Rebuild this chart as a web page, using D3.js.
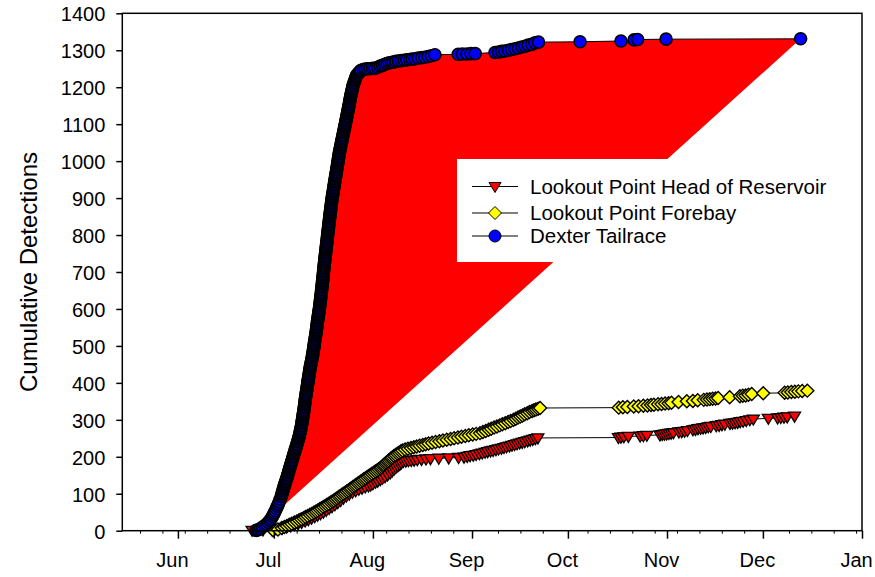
<!DOCTYPE html>
<html>
<head>
<meta charset="utf-8">
<script src="https://cdn.jsdelivr.net/npm/d3@7"></script>
<style>
  body { margin: 0; background: #fff; }
  svg { display: block; }
  text { font-family: "Liberation Sans", Arial, sans-serif; fill: #000; }
</style>
</head>
<body>
<svg id="chart" width="875" height="577"></svg>
<script>
// Dates are day of year (Jun 1 = 152, Jan 1 of the next year = 366).
const monthDays   = [152, 182, 213, 244, 274, 305, 335, 366];
const monthLabels = ["Jun", "Jul", "Aug", "Sep", "Oct", "Nov", "Dec", "Jan"];
const countTicks  = [0, 100, 200, 300, 400, 500, 600, 700, 800, 900, 1000, 1100, 1200, 1300, 1400];
const seriesNames = ["Lookout Point Head of Reservoir", "Lookout Point Forebay", "Dexter Tailrace"];
const yTitle = "Cumulative Detections";

// [day of year, cumulative detections]
const headOfReservoir = [
  [175.2,1],[178.6,2],[181.4,3],[183.0,5],[184.6,7],[186.0,10],[187.3,13],[188.5,16],[189.6,19],[190.7,22],
  [191.8,26],[192.8,30],[193.8,34],[194.8,38],[195.7,42],[196.6,46],[197.5,50],[198.4,55],[199.3,60],[200.2,65],
  [201.1,70],[202.0,76],[202.9,82],[203.8,88],[204.7,94],[205.6,99],[206.6,104],[207.6,108],[208.6,112],[209.6,115],
  [210.6,118],[211.6,121],[212.3,124],[213.0,127],[213.8,131],[214.5,134],[215.3,138],[216.0,142],[216.8,146],[217.6,151],
  [218.4,156],[219.0,161],[219.6,166],[220.2,171],[220.8,175],[221.4,179],[221.9,183],[222.5,187],[223.3,188],[224.1,189],
  [225.0,190],[225.9,191],[226.9,192],[228.2,193],[229.6,194],[231.0,195],[233.6,196],[236.7,197],[239.8,198],[241.5,199],
  [242.5,201],[243.4,203],[244.4,204],[245.3,206],[246.3,208],[247.2,210],[248.1,212],[248.9,214],[249.8,216],[250.6,217],
  [251.5,219],[252.3,221],[253.2,223],[254.0,225],[254.8,227],[255.7,229],[256.5,231],[257.3,233],[258.1,235],[258.9,237],
  [259.7,239],[260.5,241],[261.4,243],[262.2,245],[263.0,247],[263.8,249],[264.6,251],
  [289.8,252],[290.6,253],[291.5,254],[292.9,255],[296.6,256],[297.6,257],[298.7,258],
  [302.8,259],[303.5,260],[304.2,261],[304.9,262],[305.6,263],[306.3,264],[307.0,265],
  [308.7,267],[309.6,268],[310.5,269],[311.4,271],[313.1,273],[313.9,274],[314.7,276],[315.5,277],[316.3,278],[317.1,279],
  [317.9,281],[318.7,282],[320.4,284],[321.3,285],[322.2,287],[323.1,288],[324.7,290],[325.5,291],[326.3,292],[327.1,293],
  [327.9,295],[328.8,296],[329.8,298],[330.9,300],[332.0,302],[336.7,304],[339.6,305],[340.6,306],[341.6,307],[342.6,308],
  [344.9,310]
];

const forebay = [
  [181.8,1],[183.3,3],[184.5,7],[185.3,10],[186.1,13],[186.85,16],[187.6,19],[188.4,22],[189.2,25],[189.9,28],
  [190.6,31],[191.3,34],[191.9,37],[192.6,40],[193.3,43],[193.95,46],[194.6,49],[195.2,52],[195.75,55],[196.35,58],
  [196.9,61],[197.5,64],[198.1,67],[198.65,70],[199.2,73],[199.8,76],[200.3,79],[200.8,82],[201.3,85],[201.8,88],
  [202.3,91],[202.8,94],[203.3,97],[203.8,100],[204.3,103],[204.8,106],[205.3,109],[205.8,112],[206.25,115],[206.75,118],
  [207.25,121],[207.7,124],[208.2,127],[208.7,130],[209.2,133],[209.7,136],[210.15,139],[210.7,142],[211.2,145],[211.7,148],
  [212.2,151],[212.7,154],[213.25,157],[213.75,160],[214.3,163],[214.8,166],[215.3,169],[215.7,172],[216.1,175],[216.45,178],
  [216.85,181],[217.2,184],[217.6,187],[218.0,190],[218.4,193],[218.75,196],[219.15,199],[219.6,202],[220.1,205],[220.65,208],
  [221.2,211],[221.7,214],[222.25,217],[223.05,220],[223.95,222],[224.9,224],[225.8,226],[226.7,228],[227.6,230],[228.6,232],
  [229.5,234],[230.4,236],[231.5,238],[232.6,240],[233.8,242],[234.9,244],[236.1,246],[237.3,248],[238.4,250],[239.6,252],
  [240.7,254],[241.9,256],[243.0,258],[244.2,260],[245.3,262],[246.5,264],[247.4,267],[248.3,270],[249.2,273],[250.0,276],
  [250.9,279],[251.8,282],[252.7,285],[253.5,288],[254.4,291],[255.3,294],[256.1,297],[257.0,300],[257.7,303],[258.4,306],
  [259.1,309],[259.8,312],[260.5,315],[261.3,318],[262.0,321],[262.8,324],[263.4,326],[264.0,328],[264.7,330],[265.3,332],
  [289.9,333],[291.2,334],[292.6,335],[294.6,336],[296.1,337],[297.6,338],[298.9,339],[300.0,340],[300.9,341],[302.2,342],
  [303.3,343],[304.4,344],[305.5,345],[306.4,346],[308.6,348],[311.2,350],[313.1,351],[314.6,353],[316.5,354],[317.5,355],
  [318.4,356],[319.3,357],[320.2,358],[321.0,359],[324.6,361],[327.8,364],[328.7,365],[329.6,366],[330.5,368],[331.5,370],
  [335.1,372],[341.8,373],[342.8,374],[343.9,375],[345.0,376],[346.1,377],[347.3,378],[348.9,379]
];

const dexterTailrace = [
  [176.5,1],[177.2,3],[177.9,6],[178.5,10],[179.2,14],[179.8,18],[180.3,23],[180.8,28],[181.2,33],[181.6,39],
  [181.9,44],[182.2,49],[182.5,54],[182.8,60],[183.1,66],[183.4,72],[183.7,78],[184.0,85],
  [184.30,92],[184.43,96],[184.57,100],[184.70,104],[184.83,108],[184.97,112],[185.10,116],[185.24,120],[185.39,124],[185.53,128],
  [185.68,132],[185.83,136],[185.97,140],[186.12,144],[186.27,148],[186.40,152],[186.53,156],[186.67,160],[186.80,164],[186.93,168],
  [187.07,172],[187.21,176],[187.35,180],[187.49,184],[187.63,188],[187.77,192],[187.91,196],[188.05,200],[188.19,204],[188.33,208],
  [188.47,212],[188.61,216],[188.75,220],[188.89,224],[189.03,228],[189.17,232],[189.30,236],[189.43,240],[189.57,244],[189.70,248],
  [189.83,252],[189.95,256],[190.06,260],[190.16,264],[190.26,268],[190.37,272],[190.47,276],[190.57,280],[190.66,284],[190.73,288],
  [190.80,292],[190.88,296],[190.95,300],[191.03,304],[191.10,308],[191.17,312],[191.23,316],[191.30,320],[191.37,324],[191.43,328],
  [191.50,332],[191.57,336],[191.62,340],[191.68,344],[191.74,348],[191.80,352],[191.86,356],[191.92,360],[191.99,364],[192.06,368],
  [192.14,372],[192.21,376],[192.29,380],[192.36,384],[192.43,388],[192.50,392],[192.57,396],[192.63,400],[192.70,404],[192.77,408],
  [192.83,412],[192.90,416],[192.97,420],[193.05,424],[193.12,428],[193.20,432],[193.27,436],[193.34,440],[193.42,444],[193.52,448],
  [193.62,452],[193.71,456],[193.81,460],[193.90,464],[194.00,468],[194.08,472],[194.15,476],[194.23,480],[194.30,484],[194.38,488],
  [194.45,492],[194.51,496],[194.58,500],[194.64,504],[194.70,508],[194.77,512],[194.84,516],[194.91,520],[194.99,524],[195.07,528],
  [195.14,532],[195.22,536],[195.28,540],[195.34,544],[195.40,548],[195.46,552],[195.52,556],[195.58,560],[195.64,564],[195.70,568],
  [195.77,572],[195.84,576],[195.91,580],[195.98,584],[196.04,588],[196.11,592],[196.18,596],[196.24,600],[196.30,604],[196.36,608],
  [196.41,612],[196.47,616],[196.53,620],[196.59,624],[196.64,628],[196.70,632],[196.75,636],[196.81,640],[196.86,644],[196.91,648],
  [196.96,652],[197.02,656],[197.07,660],[197.12,664],[197.17,668],[197.22,672],[197.27,676],[197.31,680],[197.36,684],[197.40,688],
  [197.45,692],[197.50,696],[197.54,700],[197.59,704],[197.63,708],[197.68,712],[197.73,716],[197.78,720],[197.83,724],[197.89,728],
  [197.94,732],[197.99,736],[198.05,740],[198.10,744],[198.15,748],[198.21,752],[198.26,756],[198.31,760],[198.37,764],[198.42,768],
  [198.47,772],[198.52,776],[198.57,780],[198.63,784],[198.68,788],[198.73,792],[198.78,796],[198.83,800],[198.89,804],[198.94,808],
  [199.00,812],[199.05,816],[199.10,820],[199.16,824],[199.21,828],[199.27,832],[199.32,836],[199.38,840],[199.43,844],[199.49,848],
  [199.54,852],[199.60,856],[199.66,860],[199.71,864],[199.77,868],[199.82,872],[199.88,876],[199.94,880],[199.99,884],[200.05,888],
  [200.11,892],[200.17,896],[200.24,900],[200.32,904],[200.39,908],[200.46,912],[200.54,916],[200.61,920],[200.69,924],[200.76,928],
  [200.83,932],[200.91,936],[200.98,940],[201.06,944],[201.13,948],[201.21,952],[201.28,956],[201.36,960],[201.43,964],[201.51,968],
  [201.58,972],[201.66,976],[201.73,980],[201.80,984],[201.88,988],[201.95,992],[202.02,996],[202.10,1000],[202.17,1004],[202.24,1008],
  [202.32,1012],[202.39,1016],[202.46,1020],[202.55,1024],[202.64,1028],[202.74,1032],[202.83,1036],[202.93,1040],[203.02,1044],[203.12,1048],
  [203.21,1052],[203.31,1056],[203.40,1060],[203.49,1064],[203.59,1068],[203.68,1072],[203.78,1076],[203.87,1080],[203.97,1084],[204.06,1088],
  [204.16,1092],[204.25,1096],[204.35,1100],[204.44,1104],[204.54,1108],[204.63,1112],[204.73,1116],[204.82,1120],[204.92,1124],[205.01,1128],
  [205.11,1132],[205.20,1136],[205.29,1140],[205.38,1144],[205.46,1148],[205.54,1152],[205.63,1156],[205.71,1160],[205.79,1164],[205.88,1168],
  [205.96,1172],[206.05,1176],[206.15,1180],[206.26,1184],[206.36,1188],[206.46,1192],[206.57,1196],[206.67,1200],[206.77,1204],[206.92,1208],
  [207.09,1212],[207.25,1216],[207.41,1220],[207.57,1224],[207.74,1228],[207.90,1232],[208.2,1235],[208.5,1238],[208.8,1241],[209.1,1244],
  [209.3,1246],[210.0,1248],[210.6,1249],
  [211.3,1250],[212.1,1250],[212.9,1251],[213.7,1251],[214.5,1254],[215.3,1257],[216.0,1259],[216.7,1262],[217.4,1264],[218.1,1266],
  [218.8,1267],[219.4,1268],[220.2,1270],[221.0,1271],[221.9,1272],[222.8,1273],[223.6,1274],[224.5,1275],[225.3,1276],[226.2,1277],
  [227.2,1279],[228.3,1280],[229.3,1281],[230.3,1283],[231.3,1285],[232.4,1288],
  [239.7,1289],[241.0,1290],[242.4,1290],[243.7,1291],[245.0,1291],
  [251.2,1294],[252.3,1295],[253.3,1297],[254.3,1298],[255.4,1300],[256.4,1302],[257.5,1304],[258.5,1306],[259.6,1309],[260.6,1311],
  [261.6,1314],[262.7,1316],[263.7,1320],[264.8,1322],
  [277.8,1323],[290.6,1325],[294.7,1328],[295.8,1329],[304.7,1330],[346.8,1331]
];

// ---- layout ----
const svg = d3.select("#chart");
const plotLeft = 122.3, plotRight = 862, plotTop = 13.3, plotBottom = 530.7;

const x = d3.scaleLinear().domain([134.6, 366]).range([plotLeft, plotRight]);
const y = d3.scaleLinear().domain([0, 1400]).range([plotBottom, plotTop]);

const markerPaths = {
  triangle: "M-6,-4L6,-4L0,6Z",
  diamond: "M0,-6.5L6.5,0L0,6.5L-6.5,0Z",
  circle: d3.symbol(d3.symbolCircle, Math.PI * 36)()
};

const series = [
  { name: seriesNames[0], data: headOfReservoir, shape: "triangle", color: "#ff0000", outline: 1.3 },
  { name: seriesNames[1], data: forebay,         shape: "diamond",  color: "#ffff00", outline: 1.4 },
  { name: seriesNames[2], data: dexterTailrace,  shape: "circle",   color: "#0000ff", outline: 1.6 }
];

const line = d3.line().x(d => x(d[0])).y(d => y(d[1]));

// red area enclosed by the Dexter Tailrace curve
svg.append("path")
  .attr("d", line(dexterTailrace) + "Z")
  .attr("fill", "#ff0000")
  .attr("stroke", "none");

// series lines and markers
series.forEach(s => {
  const g = svg.append("g");
  g.append("path")
    .attr("d", line(s.data))
    .attr("fill", "none")
    .attr("stroke", "#000")
    .attr("stroke-width", 1);
  g.selectAll("path.pt")
    .data(s.data)
    .join("path")
    .attr("class", "pt")
    .attr("d", markerPaths[s.shape])
    .attr("transform", d => `translate(${x(d[0])},${y(d[1])})`)
    .attr("fill", s.color)
    .attr("stroke", "#000")
    .attr("stroke-width", s.outline);
});

// frame
svg.append("rect")
  .attr("x", plotLeft).attr("y", plotTop)
  .attr("width", plotRight - plotLeft).attr("height", plotBottom - plotTop)
  .attr("fill", "none").attr("stroke", "#000").attr("stroke-width", 1.5);

// x axis: months with weekly minor ticks
const xAxis = svg.append("g").attr("transform", `translate(0,${plotBottom})`)
  .call(d3.axisBottom(x).tickValues(monthDays).tickSize(8)
    .tickFormat((d, i) => monthLabels[i]));
xAxis.select(".domain").remove();
xAxis.selectAll(".tick line").attr("stroke", "#000").attr("stroke-width", 1.5);
xAxis.selectAll(".tick text")
  .attr("y", 36).attr("dy", 0).attr("x", -6)
  .style("font-size", "20px");

const minorDays = d3.range(140.3, 366, 7).filter(d => monthDays.every(m => Math.abs(m - d) > 1.5));
svg.append("g").selectAll("line").data(minorDays).join("line")
  .attr("x1", d => x(d)).attr("x2", d => x(d))
  .attr("y1", plotBottom).attr("y2", plotBottom + 3)
  .attr("stroke", "#000").attr("stroke-width", 1);

// y axis
const yAxis = svg.append("g").attr("transform", `translate(${plotLeft},0)`)
  .call(d3.axisLeft(y).tickValues(countTicks).tickSize(6).tickFormat(d3.format("d")));
yAxis.select(".domain").remove();
yAxis.selectAll(".tick line").attr("stroke", "#000").attr("stroke-width", 1.5);
yAxis.selectAll(".tick text")
  .attr("x", -17).attr("dy", "0.37em")
  .style("font-size", "20px");

svg.append("text")
  .attr("transform", "translate(37,272) rotate(-90)")
  .attr("text-anchor", "middle")
  .style("font-size", "24px")
  .text(yTitle);

// legend
const legend = svg.append("g");
legend.append("rect")
  .attr("x", 457).attr("y", 159).attr("width", 393).attr("height", 103)
  .attr("fill", "#fff");
const rowY = [186.5, 213, 236];
series.forEach((s, i) => {
  const row = legend.append("g").attr("transform", `translate(0,${rowY[i]})`);
  row.append("line").attr("x1", 472).attr("x2", 518).attr("y1", 0).attr("y2", 0)
    .attr("stroke", "#000").attr("stroke-width", 1);
  row.append("path").attr("d", markerPaths[s.shape])
    .attr("transform", "translate(495,0)")
    .attr("fill", s.color).attr("stroke", "#000").attr("stroke-width", 1);
  row.append("text").attr("x", 530).attr("y", 7)
    .style("font-size", "20.5px")
    .text(s.name);
});
</script>
</body>
</html>
